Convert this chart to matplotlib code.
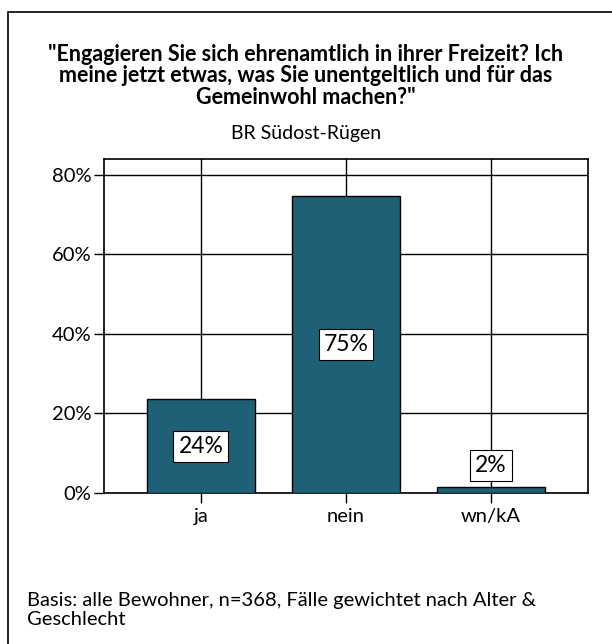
import matplotlib
matplotlib.use("Agg")
import matplotlib.pyplot as plt
from matplotlib.patches import Rectangle

categories = ["ja", "nein", "wn/kA"]
values = [23.6, 74.6, 1.5]
labels = ["24%", "75%", "2%"]
yticks = [0, 20, 40, 60, 80]

title = ('"Engagieren Sie sich ehrenamtlich in ihrer Freizeit? Ich\n'
         'meine jetzt etwas, was Sie unentgeltlich und für das\n'
         'Gemeinwohl machen?"')
subtitle = "BR Südost-Rügen"
footer = "Basis: alle Bewohner, n=368, Fälle gewichtet nach Alter &\nGeschlecht"

plt.rcParams['font.family'] = ['Lato', 'DejaVu Sans']

W, H = 612, 644
fig = plt.figure(figsize=(W / 100, H / 100), dpi=100)

# outer frame
fig.patches.append(Rectangle((8 / W, -0.01), 1.1, 1 - 12 / H + 0.01,
                             transform=fig.transFigure, fill=False,
                             edgecolor='black', linewidth=1.2))

ax = fig.add_axes([104 / W, 1 - 493 / H, (588 - 104) / W, (493 - 159) / H])
x = range(len(categories))
ax.bar(x, values, width=0.745, color='#1e6076', edgecolor='black',
       linewidth=1.0, zorder=3)
ax.set_xlim(-0.667, 2.667)
ax.set_ylim(0, 84)
ax.set_yticks(yticks)
ax.set_yticklabels([f"{t}%" for t in yticks])
ax.set_xticks(list(x))
ax.set_xticklabels(categories)
ax.grid(True, color='black', linewidth=1.0, zorder=0)
ax.tick_params(axis='both', length=7, width=1.0, labelsize=14.5, pad=2)
ax.tick_params(axis='x', pad=4)
for s in ax.spines.values():
    s.set_linewidth(1.2)

box = dict(boxstyle='square,pad=0.22', facecolor='white', edgecolor='black', linewidth=0.8)
for i, (v, lab) in enumerate(zip(values, labels)):
    if v > 10:
        ax.text(i, v / 2, lab, ha='center', va='center', fontsize=16.5,
                bbox=box, zorder=5)
    else:
        ax.annotate(lab, xy=(i, v), xytext=(i, v + 5.5), ha='center',
                    va='center', fontsize=16.5, bbox=box, zorder=5,
                    arrowprops=dict(arrowstyle='-', color='black', lw=0.8))

fig.text(0.5, 1 - 76 / H, title, ha='center', va='center', fontsize=15.5,
         fontweight='bold', linespacing=1.02)
fig.text(0.5, 1 - 133 / H, subtitle, ha='center', va='center', fontsize=14)
fig.text(27 / W, 1 - 610 / H, footer, ha='left', va='center', fontsize=14.5,
         linespacing=1.1)

fig.savefig("out.png", dpi=100)
